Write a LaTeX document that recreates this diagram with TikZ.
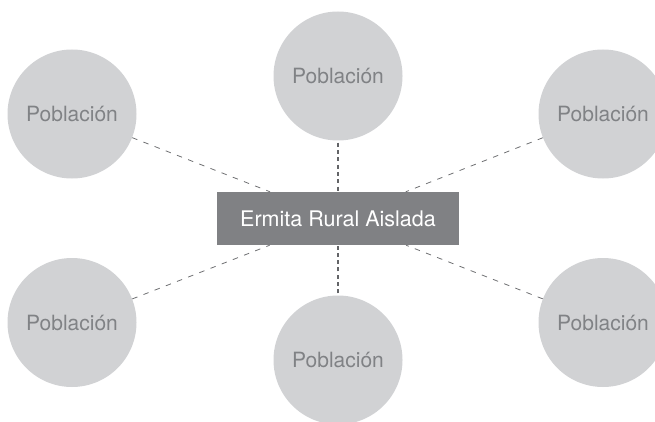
\documentclass[tikz,border=0pt]{standalone}
\usepackage{fontspec}
\setmainfont{TeX Gyre Heros}
\definecolor{circfill}{RGB}{209,210,212}
\definecolor{circtext}{RGB}{128,130,133}
\definecolor{boxfill}{RGB}{128,129,132}
\definecolor{linecol}{RGB}{110,111,114}
\tikzset{
  pob/.style={circle, fill=circfill, draw=none, minimum size=129pt, inner sep=0pt,
    text=circtext, font=\fontsize{21}{24}\selectfont},
  centerbox/.style={rectangle, fill=boxfill, draw=none, minimum width=242pt, minimum height=53pt,
    inner sep=0pt, text=white, font=\fontsize{21.5}{24}\selectfont},
  diag/.style={draw=linecol, line width=0.8pt, dash pattern=on 5.5pt off 6.5pt},
  vert/.style={draw=linecol!90!black, line width=1.7pt, dash pattern=on 4pt off 3.3pt, shorten <=2pt, shorten >=0.5pt}
}
\begin{document}
\begin{tikzpicture}[x=1pt,y=1pt]
\useasboundingbox (0,0) rectangle (655,421);
\begin{scope}
\clip (0,0) rectangle (655,421);
\node[centerbox] (c) at (338,202.5) {Ermita Rural Aislada};
\node[pob] (t)  at (338,345) {Población};
\node[pob] (lt) at (72,307) {Población};
\node[pob] (rt) at (603,307) {Población};
\node[pob] (lb) at (72,98.5) {Población};
\node[pob] (rb) at (603,98.5) {Población};
\node[pob] (b)  at (338,61) {Población};
\draw[diag] (lt) -- (c);
\draw[diag] (rt) -- (c);
\draw[diag] (lb) -- (c);
\draw[diag] (rb) -- (c);
\draw[vert] (t) -- (c);
\draw[vert] (b) -- (c);
\end{scope}
\end{tikzpicture}
\end{document}
